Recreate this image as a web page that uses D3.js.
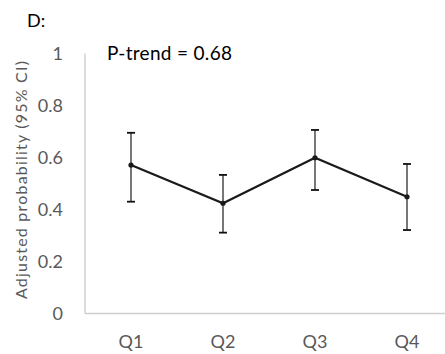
<!DOCTYPE html>
<html>
<head>
<meta charset="utf-8">
<script src="https://cdn.jsdelivr.net/npm/d3@7"></script>
<style>
  html, body { margin: 0; padding: 0; background: #fff; }
  svg { display: block; }
</style>
</head>
<body>
<svg id="chart" width="445" height="354"></svg>
<script>
// Quartile categories and adjusted probabilities with 95% CI
const categories = ["Q1", "Q2", "Q3", "Q4"];
const estimates = [0.571, 0.424, 0.599, 0.449];
const lowerCI = [0.430, 0.311, 0.475, 0.321];
const upperCI = [0.695, 0.533, 0.706, 0.575];
const yTicks = [0, 0.2, 0.4, 0.6, 0.8, 1];
const yTickLabels = ["0", "0.2", "0.4", "0.6", "0.8", "1"];

const rows = categories.map((c, i) => ({ c, v: estimates[i], lo: lowerCI[i], hi: upperCI[i] }));

const FONT = "Lato, 'Open Sans', sans-serif";
const svg = d3.select("#chart");
const margin = { left: 85, right: -8, top: 53.5, bottom: 40.5 };
const W = 445, H = 354;

const x = d3.scaleBand().domain(categories).range([margin.left, W - margin.right]);
const y = d3.scaleLinear().domain([0, 1]).range([H - margin.bottom, margin.top]);

// axis lines
svg.append("line")
  .attr("x1", margin.left).attr("x2", margin.left)
  .attr("y1", y(1)).attr("y2", y(0))
  .attr("stroke", "#d0d0d0").attr("stroke-width", 1.5);
svg.append("line")
  .attr("x1", margin.left).attr("x2", W)
  .attr("y1", y(0)).attr("y2", y(0))
  .attr("stroke", "#d0d0d0").attr("stroke-width", 1.5);

// y tick labels
const yAxis = d3.axisLeft(y).tickValues(yTicks).tickFormat((d, i) => yTickLabels[i]).tickSize(0).tickPadding(22);
const gy = svg.append("g").attr("transform", `translate(${margin.left},0)`).call(yAxis);
gy.select(".domain").remove();
gy.attr("font-size", 18).attr("font-family", FONT);
gy.selectAll("text").attr("fill", "#595959");

// x tick labels
const xAxis = d3.axisBottom(x).tickSize(0).tickPadding(22);
const gx = svg.append("g").attr("transform", `translate(0,${y(0)})`).call(xAxis);
gx.select(".domain").remove();
gx.attr("font-size", 18).attr("font-family", FONT);
gx.selectAll("text").attr("fill", "#595959");

const cx = d => x(d.c) + x.bandwidth() / 2;

// error bars
const eb = svg.append("g");
eb.selectAll("line.stem").data(rows).join("line")
  .attr("class", "stem")
  .attr("x1", cx).attr("x2", cx)
  .attr("y1", d => y(d.lo)).attr("y2", d => y(d.hi))
  .attr("stroke", "#555").attr("stroke-width", 1.6);
eb.selectAll("line.capTop").data(rows).join("line")
  .attr("class", "capTop")
  .attr("x1", d => cx(d) - 4).attr("x2", d => cx(d) + 4)
  .attr("y1", d => y(d.hi)).attr("y2", d => y(d.hi))
  .attr("stroke", "#111").attr("stroke-width", 1.8);
eb.selectAll("line.capBot").data(rows).join("line")
  .attr("class", "capBot")
  .attr("x1", d => cx(d) - 4).attr("x2", d => cx(d) + 4)
  .attr("y1", d => y(d.lo)).attr("y2", d => y(d.lo))
  .attr("stroke", "#111").attr("stroke-width", 1.8);

// estimate line and markers
svg.append("path")
  .datum(rows)
  .attr("fill", "none")
  .attr("stroke", "#1a1a1a")
  .attr("stroke-width", 2.2)
  .attr("d", d3.line().x(cx).y(d => y(d.v)));
svg.selectAll("circle.pt").data(rows).join("circle")
  .attr("class", "pt")
  .attr("cx", cx).attr("cy", d => y(d.v)).attr("r", 2.6)
  .attr("fill", "#1a1a1a");

// panel letter and trend test
svg.append("text")
  .attr("x", 27).attr("y", 27)
  .attr("fill", "#000")
  .style("font", "18px Lato, 'Open Sans', sans-serif")
  .text("D:");
svg.append("text")
  .attr("x", 107).attr("y", 60)
  .attr("fill", "#000")
  .attr("font-size", 19).attr("font-family", FONT)
  .attr("textLength", 125).attr("lengthAdjust", "spacing")
  .text("P-trend = 0.68");

// y axis title
svg.append("text")
  .attr("transform", "translate(27,180) rotate(-90)")
  .attr("text-anchor", "middle")
  .attr("fill", "#595959")
  .attr("font-size", 16).attr("font-family", FONT)
  .attr("textLength", 238).attr("lengthAdjust", "spacing")
  .text("Adjusted probability (95% CI)");
</script>
</body>
</html>
